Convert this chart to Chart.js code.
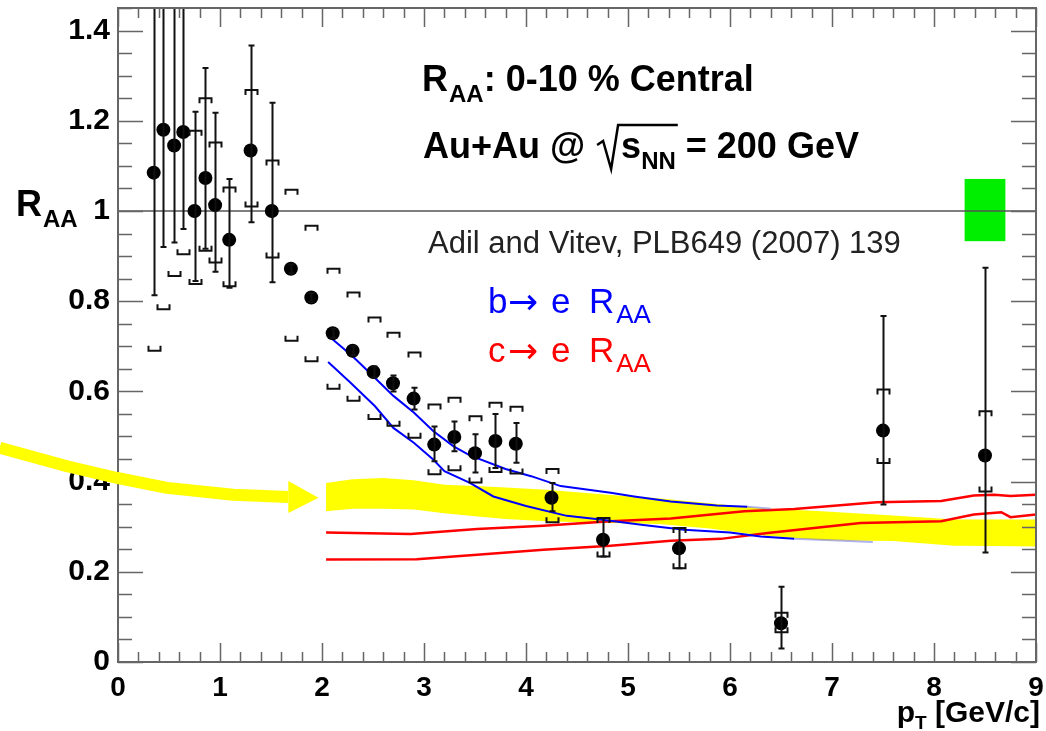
<!DOCTYPE html>
<html>
<head>
<meta charset="utf-8">
<title>R_AA 0-10% central</title>
<script src="https://cdn.jsdelivr.net/npm/chart.js@4.4.1/dist/chart.umd.min.js"></script>
<style>
  html, body { margin: 0; padding: 0; background: #fff; }
  canvas { display: block; }
</style>
</head>
<body>
<canvas id="raa" width="1046" height="731"></canvas>
<script>
// ---- measured points (pT, RAA) with stat and sys ranges ----
const ptX      = [0.35, 0.445, 0.55, 0.64, 0.75, 0.857, 0.952, 1.09, 1.30, 1.508, 1.695, 1.895, 2.105, 2.30, 2.505, 2.696, 2.898, 3.10, 3.297, 3.50, 3.70, 3.90, 4.25, 4.755, 5.50, 6.50, 7.50, 8.50];
const ptY      = [1.085, 1.18, 1.145, 1.175, 1.0, 1.073, 1.013, 0.936, 1.134, 1.0, 0.872, 0.808, 0.729, 0.69, 0.643, 0.618, 0.584, 0.482, 0.499, 0.463, 0.49, 0.484, 0.364, 0.271, 0.252, 0.086, 0.513, 0.458];
const statLow  = [0.813, 0.92, 0.93, 0.96, 0.845, 0.916, 0.865, 0.83, 0.975, 0.842, 0.862, 0.798, 0.719, 0.68, 0.631, 0.60, 0.56, 0.445, 0.467, 0.42, 0.43, 0.442, 0.334, 0.234, 0.208, 0.03, 0.349, 0.243];
const statHigh = [1.60, 1.60, 1.60, 1.60, 1.22, 1.317, 1.218, 1.071, 1.367, 1.24, 0.882, 0.818, 0.739, 0.70, 0.655, 0.635, 0.608, 0.522, 0.533, 0.505, 0.55, 0.53, 0.397, 0.319, 0.297, 0.167, 0.767, 0.874];
const sysLow   = [0.69, 0.782, 0.856, 0.904, 0.838, 0.912, 0.886, 0.833, 1.01, 0.897, 0.712, 0.667, 0.606, 0.579, 0.539, 0.524, 0.497, 0.416, 0.425, 0.398, 0.421, 0.418, 0.31, 0.234, 0.208, 0.066, 0.441, 0.378];
const sysHigh  = [1.60, 1.60, 1.60, 1.60, 1.178, 1.25, 1.152, 1.052, 1.268, 1.112, 1.047, 0.967, 0.872, 0.819, 0.764, 0.73, 0.686, 0.571, 0.586, 0.545, 0.575, 0.566, 0.428, 0.319, 0.297, 0.109, 0.604, 0.556];

// ---- theory band (yellow) ----
const bandX     = [2.04, 2.3, 2.6, 2.9, 3.2, 3.5, 3.8, 4.2, 4.8, 5.3, 5.8, 6.3, 6.9, 7.6, 8.2, 8.6, 9.0];
const bandUpper = [0.397, 0.405, 0.408, 0.403, 0.393, 0.39, 0.387, 0.382, 0.371, 0.363, 0.352, 0.341, 0.334, 0.325, 0.316, 0.316, 0.316];
const bandLower = [0.334, 0.34, 0.34, 0.338, 0.33, 0.323, 0.317, 0.312, 0.308, 0.306, 0.296, 0.281, 0.27, 0.268, 0.258, 0.257, 0.256];

// ---- b->e curves (blue) ----
const bUpX = [2.1, 2.3, 2.5, 2.7, 2.9, 3.09, 3.29, 3.45, 3.8, 4.05, 4.34, 4.83, 5.06, 5.42, 5.87, 6.17, 6.4];
const bUpY = [0.716, 0.678, 0.634, 0.59, 0.553, 0.512, 0.478, 0.458, 0.428, 0.412, 0.39, 0.375, 0.367, 0.356, 0.347, 0.344, 0.34];
const bLoX = [2.06, 2.28, 2.52, 2.7, 2.9, 3.09, 3.2, 3.45, 3.68, 4.0, 4.4, 4.73, 5.15, 5.55, 6.0, 6.3, 6.63, 7.0, 7.4];
const bLoY = [0.665, 0.619, 0.567, 0.519, 0.486, 0.449, 0.423, 0.397, 0.367, 0.346, 0.324, 0.316, 0.304, 0.293, 0.287, 0.278, 0.273, 0.27, 0.266];

// ---- c->e curves (red) ----
const cUpX = [2.04, 2.87, 3.52, 4.17, 4.83, 5.42, 6.14, 6.63, 7.44, 8.07, 8.39, 8.59, 8.75, 9.0];
const cUpY = [0.287, 0.284, 0.295, 0.302, 0.312, 0.318, 0.334, 0.339, 0.354, 0.357, 0.369, 0.371, 0.368, 0.371];
const cLoX = [2.04, 2.93, 3.52, 4.17, 4.83, 5.42, 5.91, 6.37, 7.28, 8.07, 8.39, 8.66, 8.75, 9.0];
const cLoY = [0.227, 0.228, 0.238, 0.249, 0.258, 0.269, 0.273, 0.286, 0.308, 0.312, 0.327, 0.332, 0.321, 0.327];

// normalisation uncertainty box around RAA = 1
const normBoxX = [8.3, 8.7];
const normBoxY = [0.933, 1.071];

// axis ticks
const xTicks = [0, 1, 2, 3, 4, 5, 6, 7, 8, 9];
const yTicks = [0, 0.2, 0.4, 0.6, 0.8, 1, 1.2, 1.4];
const yTickLabels = ['0', '0.2', '0.4', '0.6', '0.8', '1', '1.2', '1.4'];

// yellow arrow pointing at the band (data units, runs past the left axis)
const arrowX = [-1.16, -0.5, -0.01, 0.48, 1.13, 1.67];
const arrowY = [0.475, 0.434, 0.408, 0.386, 0.371, 0.366];
const arrowTip = [1.966, 0.364];

const FONT = "'Liberation Sans', Arial, Helvetica, sans-serif";
const xy = (xs, ys) => xs.map((v, i) => ({ x: v, y: ys[i] }));

function lineSet(xs, ys, color, width, order, fadeFrom) {
  return {
    data: xy(xs, ys), showLine: true, pointRadius: 0, borderColor: color,
    borderWidth: width, tension: 0, fill: false, order: order,
    segment: fadeFrom === undefined ? {} : {
      borderColor: c => (xs[c.p0DataIndex] >= fadeFrom ? 'rgba(110,110,235,0.55)' : color)
    }
  };
}

/* frame + inward ticks on all four sides, ROOT style */
const frameTicks = {
  id: 'frameTicks',
  afterDatasetsDraw(chart) {
    const { ctx, chartArea: a, scales: { x, y } } = chart;
    ctx.save();
    ctx.strokeStyle = '#666';
    ctx.lineWidth = 1.5;
    ctx.beginPath();
    for (let i = 0; i <= 45; i++) {
      const px = Math.round(x.getPixelForValue(i * 0.2)) + 0.5;
      const len = i % 5 === 0 ? 19 : 10;
      ctx.moveTo(px, a.bottom); ctx.lineTo(px, a.bottom - len);
      ctx.moveTo(px, a.top); ctx.lineTo(px, a.top + len);
    }
    for (let i = 0; i <= 29; i++) {
      const py = Math.round(y.getPixelForValue(i * 0.05)) + 0.5;
      const len = i % 4 === 0 ? 25 : 14;
      ctx.moveTo(a.left, py); ctx.lineTo(a.left + len, py);
      ctx.moveTo(a.right, py); ctx.lineTo(a.right - len, py);
    }
    ctx.stroke();
    ctx.lineWidth = 2;
    ctx.strokeRect(a.left, a.top, a.right - a.left, a.bottom - a.top);
    ctx.restore();
  }
};

/* green normalisation box, under the RAA = 1 line */
const normBox = {
  id: 'normBox',
  beforeDatasetsDraw(chart) {
    const { ctx, scales: { x, y } } = chart;
    const x0 = x.getPixelForValue(normBoxX[0]), x1 = x.getPixelForValue(normBoxX[1]);
    const y0 = y.getPixelForValue(normBoxY[1]), y1 = y.getPixelForValue(normBoxY[0]);
    ctx.save();
    ctx.fillStyle = '#00ee00';
    ctx.fillRect(x0, y0, x1 - x0, y1 - y0);
    ctx.restore();
  }
};

/* stat bars with small caps + sys brackets */
const errorBars = {
  id: 'errorBars',
  afterDatasetsDraw(chart) {
    const { ctx, chartArea: a, scales: { x, y } } = chart;
    ctx.save();
    ctx.beginPath();
    ctx.rect(a.left, a.top, a.right - a.left, a.bottom - a.top);
    ctx.clip();
    ctx.strokeStyle = '#111';
    ctx.lineWidth = 2;
    ptX.forEach((v, i) => {
      const px = Math.round(x.getPixelForValue(v)) + 0.5;
      const lo = y.getPixelForValue(statLow[i]), hi = y.getPixelForValue(statHigh[i]);
      ctx.beginPath();
      ctx.moveTo(px, lo); ctx.lineTo(px, hi);
      ctx.moveTo(px - 3, lo); ctx.lineTo(px + 3, lo);
      ctx.moveTo(px - 3, hi); ctx.lineTo(px + 3, hi);
      ctx.stroke();
      const sl = y.getPixelForValue(sysLow[i]), sh = y.getPixelForValue(sysHigh[i]);
      ctx.beginPath();
      ctx.moveTo(px - 6, sh + 5); ctx.lineTo(px - 6, sh); ctx.lineTo(px + 6, sh); ctx.lineTo(px + 6, sh + 5);
      ctx.moveTo(px - 6, sl - 5); ctx.lineTo(px - 6, sl); ctx.lineTo(px + 6, sl); ctx.lineTo(px + 6, sl - 5);
      ctx.stroke();
    });
    ctx.restore();
  }
};

function put(ctx, s, x, y, font, color) {
  ctx.font = font;
  ctx.fillStyle = color;
  ctx.fillText(s, x, y);
  return x + ctx.measureText(s).width;
}

/* labels, legend text and the arrow annotation */
const annotations = {
  id: 'annotations',
  afterDraw(chart) {
    const { ctx, scales: { x, y } } = chart;
    ctx.save();
    ctx.textBaseline = 'alphabetic';
    ctx.textAlign = 'left';

    // y-axis title
    let cx = put(ctx, 'R', 16, 216, 'bold 36px ' + FONT, '#000');
    put(ctx, 'AA', cx + 1, 227, 'bold 24px ' + FONT, '#000');

    // x-axis title, right-aligned at the frame edge
    ctx.font = 'bold 30px ' + FONT;
    const wTail = ctx.measureText(' [GeV/c]').width;
    const wP = ctx.measureText('p').width;
    ctx.font = 'bold 19px ' + FONT;
    const wT = ctx.measureText('T').width;
    const x0 = 1040 - wTail - wT - wP;
    cx = put(ctx, 'p', x0, 722, 'bold 30px ' + FONT, '#000');
    cx = put(ctx, 'T', cx, 729, 'bold 19px ' + FONT, '#000');
    put(ctx, ' [GeV/c]', cx, 722, 'bold 30px ' + FONT, '#000');

    // header
    cx = put(ctx, 'R', 422, 91, 'bold 36px ' + FONT, '#000');
    cx = put(ctx, 'AA', cx + 1, 102, 'bold 24px ' + FONT, '#000');
    put(ctx, ': 0-10 % Central', cx, 91, 'bold 36px ' + FONT, '#000');

    cx = put(ctx, 'Au+Au @ ', 423, 158, 'bold 36px ' + FONT, '#000');
    const s0 = cx + 2;
    const sx = put(ctx, 's', s0 + 24, 158, 'bold 36px ' + FONT, '#000');
    const nn = put(ctx, 'NN', sx, 169, 'bold 24px ' + FONT, '#000');
    ctx.strokeStyle = '#000';
    ctx.lineWidth = 2.5;
    ctx.lineJoin = 'miter';
    ctx.beginPath();
    ctx.moveTo(s0, 145); ctx.lineTo(s0 + 6, 141); ctx.lineTo(s0 + 14, 169);
    ctx.lineTo(s0 + 21, 125); ctx.lineTo(nn + 2, 125);
    ctx.stroke();
    put(ctx, ' = 200 GeV', nn, 158, 'bold 36px ' + FONT, '#000');

    put(ctx, 'Adil and Vitev, PLB649 (2007) 139', 428, 253, '31px ' + FONT, '#222');

    // model legend
    const legend = [['b', '#0000ff', 313], ['c', '#ff0000', 362]];
    legend.forEach(([q, col, base]) => {
      put(ctx, q, 488, base, '35px ' + FONT, col);
      put(ctx, '\u2192', 508, base + 1, "36px 'DejaVu Sans', sans-serif", col);
      put(ctx, 'e', 551, base, '35px ' + FONT, col);
      const r = put(ctx, 'R', 589, base, '35px ' + FONT, col);
      put(ctx, 'AA', r + 2, base + 10, '26px ' + FONT, col);
    });

    // yellow arrow
    ctx.strokeStyle = '#ffff00';
    ctx.fillStyle = '#ffff00';
    ctx.lineWidth = 12;
    ctx.lineJoin = 'round';
    ctx.beginPath();
    arrowX.forEach((v, i) => {
      const px = x.getPixelForValue(v), py = y.getPixelForValue(arrowY[i]);
      if (i === 0) ctx.moveTo(px, py); else ctx.lineTo(px, py);
    });
    ctx.stroke();
    const bx = x.getPixelForValue(arrowX[arrowX.length - 1]);
    const by = y.getPixelForValue(arrowY[arrowY.length - 1]);
    ctx.beginPath();
    ctx.moveTo(bx, by - 16);
    ctx.lineTo(x.getPixelForValue(arrowTip[0]), y.getPixelForValue(arrowTip[1]));
    ctx.lineTo(bx, by + 16);
    ctx.closePath();
    ctx.fill();
    ctx.restore();
  }
};

new Chart(document.getElementById('raa'), {
  type: 'scatter',
  data: {
    datasets: [
      {
        data: xy(ptX, ptY), pointRadius: 7, pointHoverRadius: 7,
        pointBackgroundColor: '#000', pointBorderWidth: 0, order: 0
      },
      lineSet(bUpX, bUpY, '#0000ff', 2, 1, 5.9),
      lineSet(bLoX, bLoY, '#0000ff', 2, 1, 6.63),
      lineSet(cUpX, cUpY, '#ff0000', 2.5, 1),
      lineSet(cLoX, cLoY, '#ff0000', 2.5, 1),
      lineSet([0, 9], [1, 1], '#555', 1.5, 2),
      {
        data: xy(bandX, bandUpper), showLine: true, pointRadius: 0, borderWidth: 0,
        borderColor: 'rgba(0,0,0,0)', backgroundColor: '#ffff00', fill: '+1', order: 3
      },
      {
        data: xy(bandX, bandLower), showLine: true, pointRadius: 0, borderWidth: 0,
        borderColor: 'rgba(0,0,0,0)', fill: false, order: 3
      }
    ]
  },
  options: {
    responsive: false,
    animation: false,
    events: [],
    layout: { padding: { top: 8, right: 10, left: 0, bottom: 0 } },
    plugins: { legend: { display: false }, tooltip: { enabled: false } },
    scales: {
      x: {
        type: 'linear', min: 0, max: 9,
        afterBuildTicks: s => { s.ticks = xTicks.map(v => ({ value: v })); },
        afterFit: s => { s.height = 69; s.paddingLeft = 0; s.paddingRight = 0; },
        grid: { display: false, drawTicks: false },
        border: { display: false },
        ticks: { color: '#000', padding: 9, maxRotation: 0, font: { family: FONT, size: 28, weight: 'bold' } }
      },
      y: {
        type: 'linear', min: 0, max: 1.45,
        afterBuildTicks: s => { s.ticks = yTicks.map(v => ({ value: v })); },
        afterFit: s => { s.width = 118; s.paddingTop = 0; s.paddingBottom = 0; },
        grid: { display: false, drawTicks: false },
        border: { display: false },
        ticks: {
          color: '#000', padding: 8, font: { family: FONT, size: 30, weight: 'bold' },
          callback: (v, i) => yTickLabels[i]
        }
      }
    }
  },
  plugins: [normBox, errorBars, frameTicks, annotations]
});
</script>
</body>
</html>
